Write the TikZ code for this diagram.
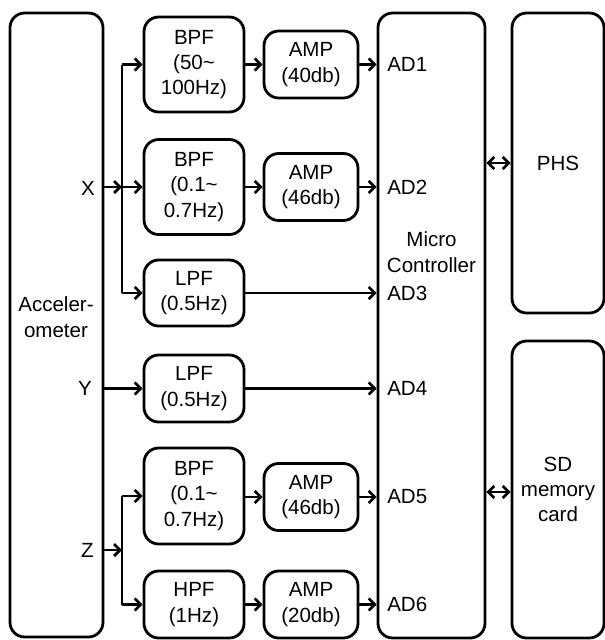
\documentclass[tikz,border=0pt]{standalone}
\usepackage{fontspec}
\setmainfont{Liberation Sans}
\usetikzlibrary{arrows.meta}
\begin{document}
\begin{tikzpicture}[x=0.75pt,y=-0.75pt,
  blk/.style={draw, line width=2.1pt, rounded corners=11pt, align=center, inner sep=0pt},
  sz/.style 2 args={minimum width=#1*0.75pt, minimum height=#2*0.75pt},
  lbl/.style={inner sep=0pt, align=center},
  conn/.style={line width=2pt, -{Straight Barb[length=4.5pt,width=9pt,line width=2pt]}},
  bconn/.style={line width=2pt, {Straight Barb[length=4.5pt,width=9pt,line width=2pt]}-{Straight Barb[length=4.5pt,width=9pt,line width=2pt]}},
  bus/.style={line width=2pt},
  font=\fontsize{15.4}{19}\selectfont]
\useasboundingbox (0,0) rectangle (605,640);

% big blocks
\node[blk, sz={93}{624}] (acc) at (56.5,325) {};
\node[lbl] (acct) at (56,317) {Acceler-\\ometer};
\node[blk, sz={107}{625}] (mc) at (431.5,325.5) {};
\node[lbl] (mct) at (431.5,252) {Micro\\Controller};
\node[blk, sz={92}{300}] (phs) at (558,163) {PHS};
\node[blk, sz={92}{297}] (sd) at (558,489.5) {SD\\memory\\card};

% axis labels
\node[lbl, anchor=east] (xl) at (95,188) {X};
\node[lbl, anchor=east] (yl) at (92,388) {Y};
\node[lbl, anchor=east] (zl) at (94,550) {Z};

% filter blocks
\node[blk, sz={100}{95}] (bpf1) at (194,64.5) {BPF\\(50\textasciitilde\\100Hz)};
\node[blk, sz={94}{67}] (amp1) at (311,64.5) {AMP\\(40db)};
\node[blk, sz={100}{95}] (bpf2) at (194,187) {BPF\\(0.1\textasciitilde\\0.7Hz)};
\node[blk, sz={94}{67}] (amp2) at (311,187) {AMP\\(46db)};
\node[blk, sz={100}{66}] (lpf1) at (194,293) {LPF\\(0.5Hz)};
\node[blk, sz={100}{67}] (lpf2) at (194,388.5) {LPF\\(0.5Hz)};
\node[blk, sz={100}{96}] (bpf3) at (194,496) {BPF\\(0.1\textasciitilde\\0.7Hz)};
\node[blk, sz={94}{67}] (amp3) at (311,497) {AMP\\(46db)};
\node[blk, sz={100}{67}] (hpf) at (194,604.5) {HPF\\(1Hz)};
\node[blk, sz={94}{67}] (amp4) at (311,604.5) {AMP\\(20db)};

% AD labels
\node[lbl, anchor=west] (ad1) at (387,64.5) {AD1};
\node[lbl, anchor=west] (ad2) at (387,187) {AD2};
\node[lbl, anchor=west] (ad3) at (387,293) {AD3};
\node[lbl, anchor=west] (ad4) at (387,388.5) {AD4};
\node[lbl, anchor=west] (ad5) at (387,497) {AD5};
\node[lbl, anchor=west] (ad6) at (387,604.5) {AD6};

% bus coordinates
\coordinate (xbus) at (122,187);
\coordinate (zbus) at (122,550);
\coordinate (xtop) at (122,64.5);
\coordinate (xbot) at (122,293);
\coordinate (ztop) at (122,496);
\coordinate (zbot) at (122,604.5);

% X channel
\draw[conn] (xbus -| acc.east) -- (xbus);
\draw[bus] (xtop) -- (xbot);
\draw[conn] (xtop) -- (bpf1.west);
\draw[conn] (xbus) -- (bpf2.west);
\draw[conn] (xbot) -- (lpf1.west);
% Y channel
\draw[conn] (lpf2.west -| acc.east) -- (lpf2.west);
% Z channel
\draw[conn] (zbus -| acc.east) -- (zbus);
\draw[bus] (ztop) -- (zbot);
\draw[conn] (ztop) -- (bpf3.west);
\draw[conn] (zbot) -- (hpf.west);

% filter to amp
\draw[conn] (bpf1.east) -- (amp1.west);
\draw[conn] (bpf2.east) -- (amp2.west);
\draw[conn] (bpf3.east |- amp3.west) -- (amp3.west);
\draw[conn] (hpf.east) -- (amp4.west);

% to micro controller
\draw[conn] (amp1.east) -- (amp1.east -| mc.west);
\draw[conn] (amp2.east) -- (amp2.east -| mc.west);
\draw[conn] (lpf1.east) -- (lpf1.east -| mc.west);
\draw[conn] (lpf2.east) -- (lpf2.east -| mc.west);
\draw[conn] (amp3.east) -- (amp3.east -| mc.west);
\draw[conn] (amp4.east) -- (amp4.east -| mc.west);

% bidirectional
\draw[bconn] (phs.west -| mc.east) -- (phs.west);
\coordinate (sdarr) at (512,492);
\draw[bconn] (sdarr -| mc.east) -- (sdarr -| sd.west);
\end{tikzpicture}
\end{document}
